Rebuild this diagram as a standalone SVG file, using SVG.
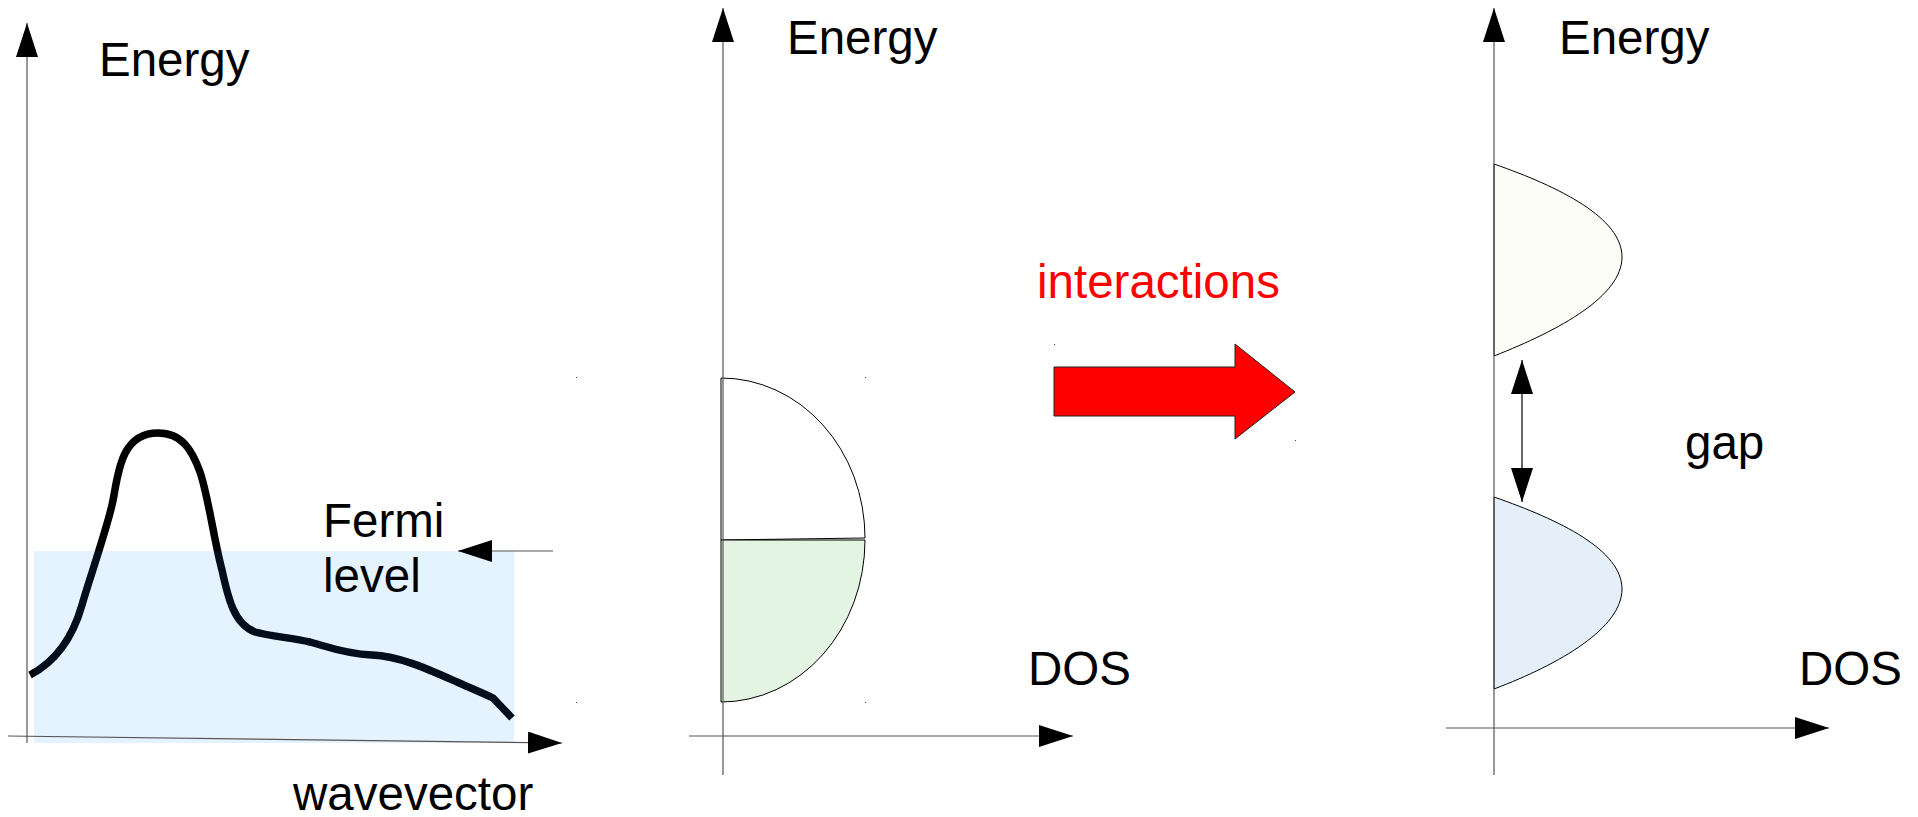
<svg xmlns="http://www.w3.org/2000/svg" width="1918" height="817" viewBox="0 0 1918 817">
<style>
text{font-family:"Liberation Sans",Arial,sans-serif;font-size:47.5px;fill:#000}
.ax{stroke:#555;stroke-width:1.2;fill:none}
.dot{fill:#444}
</style>
<defs>
<marker id="ah" viewBox="0 0 34 22" markerWidth="34" markerHeight="22" refX="34" refY="11" orient="auto-start-reverse" markerUnits="userSpaceOnUse">
<path d="M0,0 L34,11 L0,22 Z" fill="#000"/>
</marker>
</defs>
<rect width="1918" height="817" fill="#fff"/>

<g id="panel1">
<path d="M30,675 C55,662 72,640 82,605 C88,583 105,535 112,505 C118,480 118,433 158,433 C182,433 192,450 200,472 C208,495 214,540 222,570 C228,598 234,624 255,632 C270,636 292,638 310,642 C325,646 345,654 372,655 C400,656 430,670 457,682 C473,689 485,694 493,698 L512,718" fill="none" stroke="#000" stroke-width="7.5"/>
<rect x="34" y="551" width="480" height="192" fill="#0080ff" fill-opacity="0.1"/>
<text x="99" y="76">Energy</text>
<text x="323" y="537">Fermi</text>
<text x="323" y="592">level</text>
<text x="293" y="810">wavevector</text>
<rect class="dot" x="576" y="377" width="1" height="1"/>
<rect class="dot" x="576" y="702" width="1" height="1"/>
</g>

<g id="panel2">
<path d="M721,378 A144,160 0 0 1 865,538 L721,540 Z" fill="#fff" stroke="#000" stroke-width="1"/>
<path d="M721,540 L865,540 A144,162 0 0 1 721,702 Z" fill="#e3f4e3" stroke="#000" stroke-width="1"/>
<text x="787" y="54">Energy</text>
<text x="1028" y="685">DOS</text>
<rect class="dot" x="865" y="377" width="1" height="1"/>
<rect class="dot" x="865" y="702" width="1" height="1"/>
</g>

<g id="interactions">
<text x="1037" y="298" style="fill:#ff0000">interactions</text>
<path d="M1054,367 L1235,367 L1235,344 L1295,392 L1235,439 L1235,416 L1054,416 Z" fill="#ff0000" stroke="#222" stroke-width="1"/>
<rect class="dot" x="1054" y="344" width="1" height="1"/>
<rect class="dot" x="1295" y="440" width="1" height="1"/>
</g>

<g id="panel3">
<path d="M1494,164 C1560,187 1622,218 1622,257 C1622,296 1560,330 1494,356 Z" fill="#fdfdf7" stroke="#000" stroke-width="1"/>
<path d="M1494,497 C1560,520 1622,550 1622,589 C1622,628 1560,664 1494,689 Z" fill="#e5eff9" stroke="#000" stroke-width="1"/>
<text x="1559" y="54">Energy</text>
<text x="1685" y="459">gap</text>
<text x="1799" y="685">DOS</text>
</g>

<g id="connectors">
<line class="ax" x1="27" y1="743" x2="27" y2="23" marker-end="url(#ah)"/>
<line class="ax" x1="8" y1="736" x2="562" y2="743" marker-end="url(#ah)"/>
<line class="ax" x1="553" y1="551" x2="458" y2="551" marker-end="url(#ah)"/>
<line class="ax" x1="723" y1="775" x2="723" y2="8" marker-end="url(#ah)"/>
<line class="ax" x1="689" y1="736" x2="1073" y2="736" marker-end="url(#ah)"/>
<line class="ax" x1="1494" y1="775" x2="1494" y2="8" marker-end="url(#ah)"/>
<line class="ax" x1="1446" y1="728" x2="1829" y2="728" marker-end="url(#ah)"/>
<line class="ax" x1="1522" y1="360" x2="1522" y2="502" marker-start="url(#ah)" marker-end="url(#ah)" style="stroke:#000"/>
</g>
</svg>
